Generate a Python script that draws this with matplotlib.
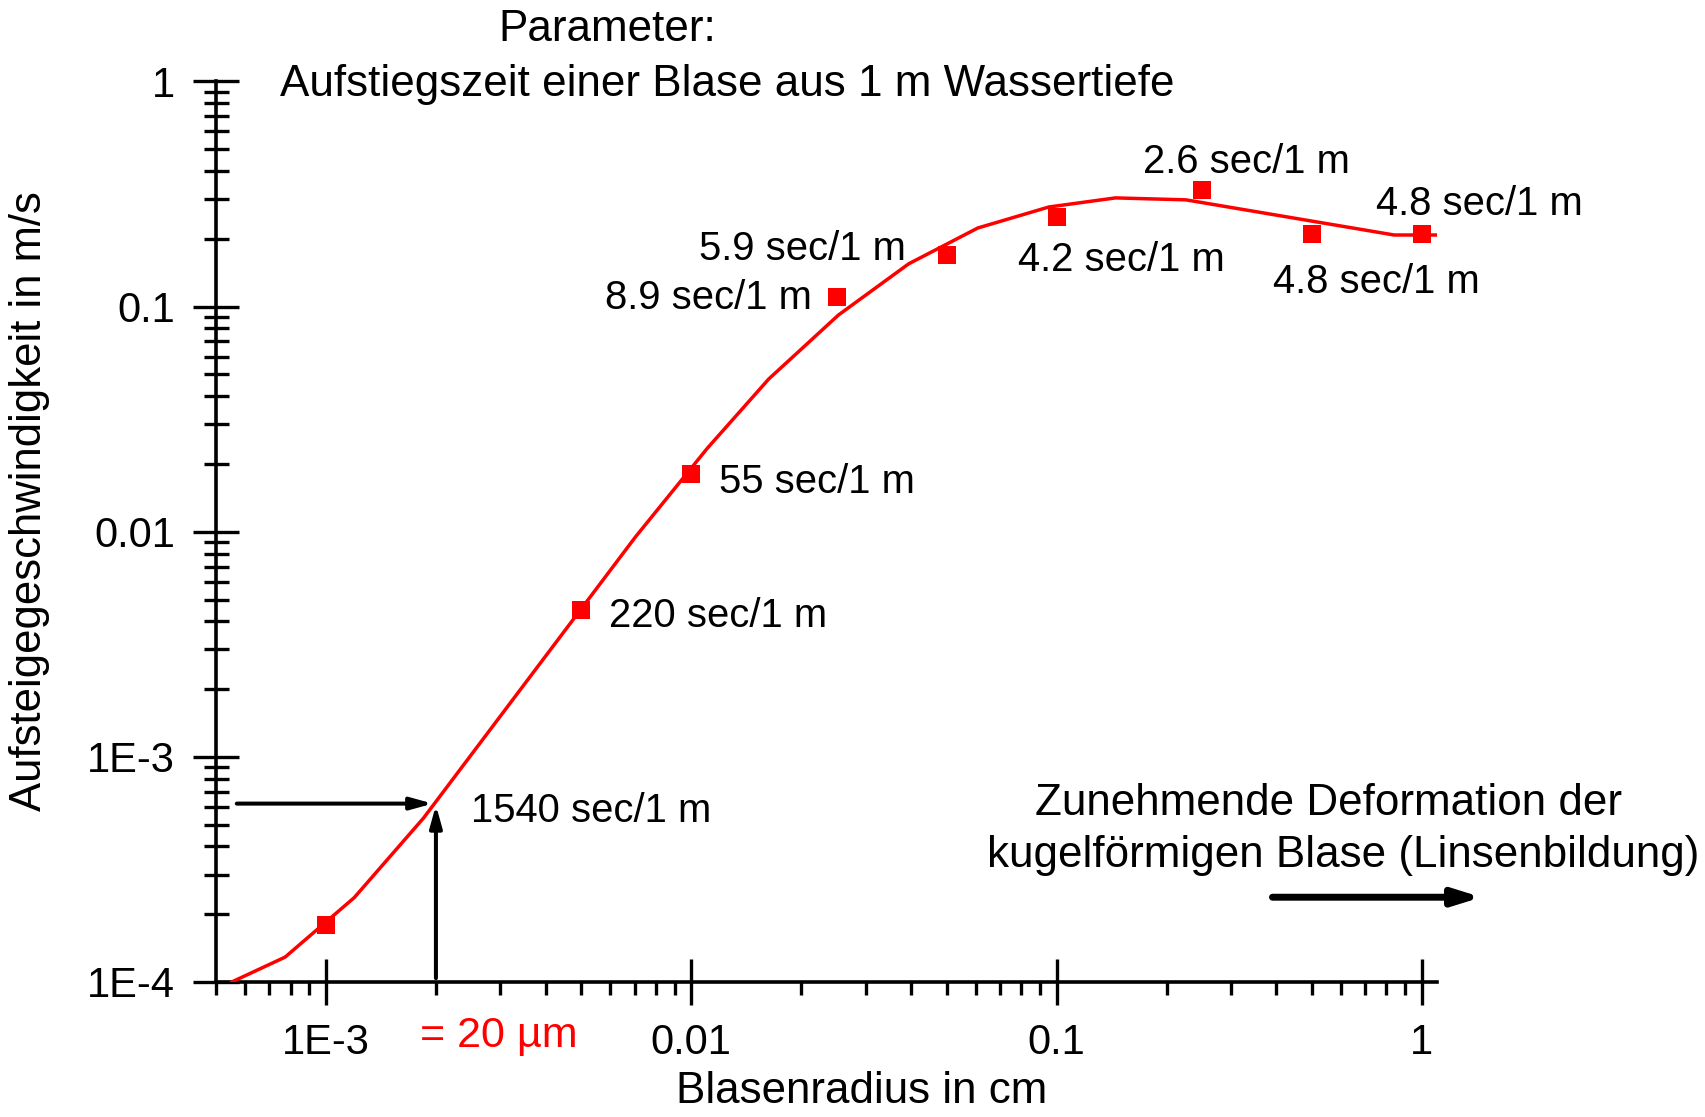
import matplotlib
matplotlib.use("Agg")
import matplotlib.pyplot as plt
from matplotlib.ticker import FixedLocator, FixedFormatter, LogLocator, NullFormatter

plt.rcParams['font.family'] = ['Liberation Sans', 'DejaVu Sans']

# red curve
curve_x = [5.52e-4, 7.73e-4, 1.195e-3, 1.85e-3, 7.03e-3, 1.107e-2, 1.63e-2, 2.53e-2,
           3.94e-2, 6.09e-2, 9.53e-2, 0.145, 0.226, 0.84, 1.1]
curve_y = [1.0e-4, 1.29e-4, 2.37e-4, 5.35e-4, 9.47e-3, 2.35e-2, 4.77e-2, 9.18e-2,
           0.155, 0.2235, 0.277, 0.304, 0.298, 0.208, 0.208]

# measured points
point_x = [1e-3, 5e-3, 1e-2, 2.5e-2, 5e-2, 0.1, 0.25, 0.5, 1.0]
point_y = [1.8e-4, 4.5e-3, 0.018, 0.11, 0.17, 0.25, 0.33, 0.21, 0.21]
point_labels = ["", "220 sec/1 m", "55 sec/1 m", "8.9 sec/1 m", "5.9 sec/1 m",
                "4.2 sec/1 m", "2.6 sec/1 m", "4.8 sec/1 m", "4.8 sec/1 m"]

# 20 um bubble
bubble_r = 2e-3
bubble_v = 6.2e-4
bubble_label = "1540 sec/1 m"

xticks = [1e-3, 1e-2, 0.1, 1]
xtick_labels = ["1E-3", "0.01", "0.1", "1"]
yticks = [1e-4, 1e-3, 1e-2, 0.1, 1]
ytick_labels = ["1E-4", "1E-3", "0.01", "0.1", "1"]

# label offsets in points (dx, dy, ha)
offsets = [None, (19.7, -12.7, 'left'), (19.9, -13.2, 'left'), (-18, -8.1, 'right'),
           (-29, -3.6, 'right'), (-27.6, -38.9, 'left'), (-42.7, 12.5, 'left'),
           (-28.3, -42.5, 'left'), (-32.9, 13.9, 'left')]

fig = plt.figure(figsize=(17.05, 11.17), dpi=100)
ax = fig.add_axes([0.12669, 0.12086, 0.7161, 0.8062])
ax.set_xscale('log')
ax.set_yscale('log')
ax.set_xlim(5e-4, 1.1)
ax.set_ylim(1e-4, 1)

ax.plot(curve_x, curve_y, color='red', lw=2.5, zorder=3)
ax.plot(point_x, point_y, 's', color='red', ms=12.7, mew=0, zorder=4)

for x, y, lab, off in zip(point_x, point_y, point_labels, offsets):
    if not lab:
        continue
    ax.annotate(lab, (x, y), xytext=(off[0], off[1]), textcoords='offset points',
                ha=off[2], va='baseline', fontsize=28.8)

# arrows to the 20 um point
ax.annotate("", xy=(bubble_r * 0.98, bubble_v), xytext=(5.7e-4, bubble_v),
            arrowprops=dict(arrowstyle='-|>,head_length=1.3,head_width=0.36',
                            color='black', lw=2.9, shrinkA=0, shrinkB=0))
ax.annotate("", xy=(bubble_r, bubble_v * 0.985), xytext=(bubble_r, 1.04e-4),
            arrowprops=dict(arrowstyle='-|>,head_length=1.3,head_width=0.36',
                            color='black', lw=2.9, shrinkA=0, shrinkB=0))
ax.annotate(bubble_label, (bubble_r, bubble_v), xytext=(25, -13.5),
            textcoords='offset points', ha='left', va='baseline', fontsize=28.8)
ax.text(1.804e-3, 5.15e-5, "= 20 µm", color='red', fontsize=31,
        ha='left', va='baseline')

# deformation arrow
ax.annotate("", xy=(1.455, 2.38e-4), xytext=(0.39, 2.38e-4), annotation_clip=False,
            arrowprops=dict(arrowstyle='-|>,head_length=1.6,head_width=0.5',
                            color='black', lw=5, shrinkA=0, shrinkB=0,
                            capstyle='round'))

for side in ['top', 'right']:
    ax.spines[side].set_visible(False)
for side in ['bottom', 'left']:
    ax.spines[side].set_linewidth(2.6)

ax.xaxis.set_major_locator(FixedLocator(xticks))
ax.xaxis.set_major_formatter(FixedFormatter(xtick_labels))
ax.yaxis.set_major_locator(FixedLocator(yticks))
ax.yaxis.set_major_formatter(FixedFormatter(ytick_labels))
ax.xaxis.set_minor_locator(LogLocator(base=10, subs=range(2, 10)))
ax.yaxis.set_minor_locator(LogLocator(base=10, subs=range(2, 10)))
ax.xaxis.set_minor_formatter(NullFormatter())
ax.yaxis.set_minor_formatter(NullFormatter())

ax.tick_params(axis='both', which='major', direction='inout', length=33, width=2.4,
               labelsize=30, pad=13)
ax.tick_params(axis='y', which='minor', direction='inout', length=18, width=2.4)
ax.tick_params(axis='x', which='minor', direction='out', length=9.4, width=2.4)

fig.text(29.4 / 1705, 1 - 501 / 1117, "Aufsteigegeschwindigkeit in m/s", rotation=90,
         ha='center', va='center', fontsize=31.4)
fig.text(862 / 1705, 1 - 1103.3 / 1117, "Blasenradius in cm", ha='center',
         va='baseline', fontsize=31.6)
fig.text(607 / 1705, 1 - 41 / 1117, "Parameter:", ha='center', va='baseline', fontsize=31.7)
fig.text(280.5 / 1705, 1 - 95.7 / 1117, "Aufstiegszeit einer Blase aus 1 m Wassertiefe",
         ha='left', va='baseline', fontsize=31.7)
fig.text(1035 / 1705, 1 - 815 / 1117, "Zunehmende Deformation der", ha='left',
         va='baseline', fontsize=31.7)
fig.text(987 / 1705, 1 - 867 / 1117, "kugelförmigen Blase (Linsenbildung)", ha='left',
         va='baseline', fontsize=31.7)

fig.savefig("out.png", dpi=100)
